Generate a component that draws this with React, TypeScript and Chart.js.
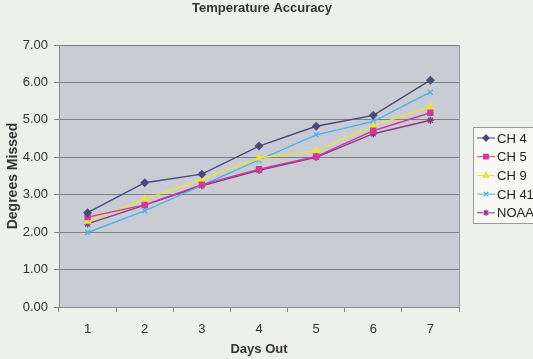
import React, { useEffect, useRef } from "react";
import { Chart, registerables } from "chart.js";

Chart.register(...registerables);

const titleText = "Temperature Accuracy";
const xTitle = "Days Out";
const yTitle = "Degrees Missed";
const days = ["1", "2", "3", "4", "5", "6", "7"];
const seriesNames = ["CH 4", "CH 5", "CH 9", "CH 41", "NOAA"];
const ch4 = [2.52, 3.32, 3.55, 4.3, 4.83, 5.12, 6.06];
const ch5 = [2.4, 2.73, 3.27, 3.68, 4.02, 4.71, 5.19];
const ch9 = [2.29, 2.88, 3.41, 3.98, 4.17, 4.84, 5.35];
const ch41 = [1.99, 2.57, 3.25, 3.93, 4.6, 4.96, 5.74];
const noaa = [2.22, 2.72, 3.24, 3.65, 4.0, 4.63, 4.99];
const seriesColors = ["#4a4d78", "#d0399c", "#ece23a", "#4cb4e6", "#8a3c82"];
const seriesMarkers = ["rectRot", "rect", "triangle", "crossRot", "star"];

function drawMarker(ctx: CanvasRenderingContext2D, style: string, x: number, y: number, r: number, color: string) {
  ctx.save();
  ctx.fillStyle = color;
  ctx.strokeStyle = color;
  ctx.lineWidth = 1.3;
  ctx.beginPath();
  if (style === "rectRot") {
    ctx.moveTo(x, y - r); ctx.lineTo(x + r, y); ctx.lineTo(x, y + r); ctx.lineTo(x - r, y); ctx.closePath();
    ctx.fill(); ctx.stroke();
  } else if (style === "rect") {
    const s = r * 0.75;
    ctx.rect(x - s, y - s, 2 * s, 2 * s); ctx.fill(); ctx.stroke();
  } else if (style === "triangle") {
    ctx.moveTo(x, y - r); ctx.lineTo(x + r * 0.9, y + r * 0.6); ctx.lineTo(x - r * 0.9, y + r * 0.6); ctx.closePath();
    ctx.fill(); ctx.stroke();
  } else if (style === "crossRot") {
    const s = r * 0.75;
    ctx.moveTo(x - s, y - s); ctx.lineTo(x + s, y + s); ctx.moveTo(x + s, y - s); ctx.lineTo(x - s, y + s);
    ctx.stroke();
  } else {
    const s = r * 0.75;
    ctx.moveTo(x - s, y - s); ctx.lineTo(x + s, y + s); ctx.moveTo(x + s, y - s); ctx.lineTo(x - s, y + s);
    ctx.moveTo(x, y - r); ctx.lineTo(x, y + r);
    ctx.stroke();
  }
  ctx.restore();
}

const bgPlugin = {
  id: "bgPlugin",
  beforeDraw(chart: any) {
    const { ctx, chartArea: a } = chart;
    ctx.save();
    ctx.fillStyle = "#eef0ec";
    ctx.fillRect(0, 0, chart.width, chart.height);
    ctx.fillStyle = "#c9ccd5";
    ctx.fillRect(a.left, a.top, a.right - a.left, a.bottom - a.top);
    ctx.restore();
  },
  afterDraw(chart: any) {
    const { ctx, chartArea: a } = chart;
    ctx.save();
    ctx.fillStyle = "#333333";
    ctx.font = "bold 13px 'Liberation Sans', Arial, sans-serif";
    ctx.textAlign = "center";
    ctx.textBaseline = "middle";
    ctx.fillText(titleText, 262, 8);
    ctx.strokeStyle = "#9a9ca0";
    ctx.lineWidth = 1;
    ctx.beginPath();
    ctx.moveTo(a.right + 0.5, a.top);
    ctx.lineTo(a.right + 0.5, a.bottom);
    ctx.stroke();
    const lx = 473.5, ly = 127.5, lw = 80, lh = 96;
    ctx.fillStyle = "#f7f7f5";
    ctx.fillRect(lx, ly, lw, lh);
    ctx.strokeStyle = "#9a9a9a";
    ctx.strokeRect(lx, ly, lw, lh);
    ctx.font = "13px 'Liberation Sans', Arial, sans-serif";
    ctx.textAlign = "left";
    chart.data.datasets.forEach((ds: any, i: number) => {
      const y = 138 + i * 18.7;
      ctx.strokeStyle = ds.borderColor;
      ctx.lineWidth = 1;
      ctx.beginPath();
      ctx.moveTo(477, y);
      ctx.lineTo(495, y);
      ctx.stroke();
      drawMarker(ctx, ds.pointStyle, 486, y, 3, ds.borderColor);
      ctx.fillStyle = "#222222";
      ctx.fillText(ds.label, 497, y + 1);
    });
    ctx.restore();
  },
};

export default function App() {
  const ref = useRef<HTMLCanvasElement>(null);
  useEffect(() => {
    document.body.style.margin = "0";
    const values = [ch4, ch5, ch9, ch41, noaa];
    const chart = new Chart(ref.current as HTMLCanvasElement, {
      type: "line",
      data: {
        labels: days,
        datasets: seriesNames.map((name, i) => ({
          label: name,
          data: values[i],
          borderColor: seriesColors[i],
          backgroundColor: seriesColors[i],
          borderWidth: 1.4,
          pointStyle: seriesMarkers[i] as any,
          pointRadius: 3.5,
          pointBorderWidth: 1.4,
          tension: 0,
        })),
      },
      options: {
        responsive: false,
        animation: false,
        layout: { padding: { top: 45, right: 74, left: 0, bottom: 0 } },
        plugins: {
          legend: { display: false },
          title: { display: false },
          tooltip: { enabled: false },
        },
        scales: {
          x: {
            offset: true,
            afterFit: (s: any) => { s.height = 52; },
            grid: {
              display: true,
              drawOnChartArea: false,
              offset: true,
              color: "#8a8a8a",
              tickLength: 5,
            },
            border: { color: "#8a8a8a" },
            ticks: {
              color: "#333333",
              padding: 10,
              font: { size: 13, family: "'Liberation Sans', Arial, sans-serif" },
            },
            title: {
              display: true,
              text: xTitle,
              color: "#333333",
              padding: { top: 2, bottom: 2 },
              font: { size: 13, weight: "bold", family: "'Liberation Sans', Arial, sans-serif" },
            },
          },
          y: {
            min: 0,
            max: 7,
            afterFit: (s: any) => { s.width = 59; },
            grid: { color: "#7e7f84", tickLength: 5, tickColor: "#8a8a8a" },
            border: { color: "#8a8a8a" },
            ticks: {
              stepSize: 1,
              color: "#333333",
              padding: 6,
              font: { size: 13, family: "'Liberation Sans', Arial, sans-serif" },
              callback: (v: any) => Number(v).toFixed(2),
            },
            title: {
              display: true,
              text: yTitle,
              color: "#333333",
              padding: { top: 5, bottom: 0 },
              font: { size: 14, weight: "bold", family: "'Liberation Sans', Arial, sans-serif" },
            },
          },
        },
      },
      plugins: [bgPlugin],
    });
    return () => chart.destroy();
  }, []);
  return (
    <div style={{ position: "fixed", left: 0, top: 0, width: 533, height: 359 }}>
      <canvas ref={ref} width={533} height={359} style={{ width: 533, height: 359 }} />
    </div>
  );
}
